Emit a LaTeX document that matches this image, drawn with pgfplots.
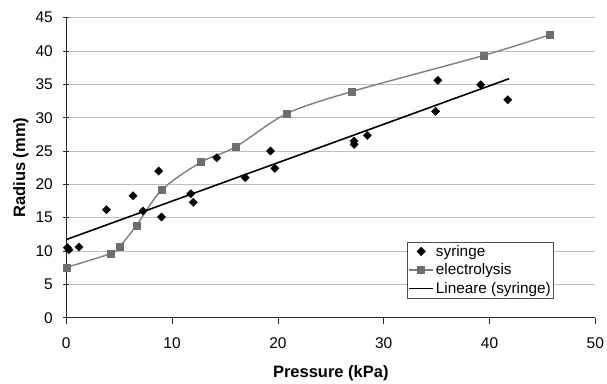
\documentclass[border=0pt]{standalone}
\usepackage{fontspec}
\setmainfont{Liberation Sans}
\usepackage{pgfplots}
\pgfplotsset{compat=1.18}
\definecolor{elgray}{HTML}{7F7F7F}
\definecolor{elsq}{HTML}{6E6E6E}
\definecolor{grid}{HTML}{808080}
\begin{document}
\begin{tikzpicture}
\begin{axis}[
  scale only axis,
  width=529pt, height=300pt,
  xmin=0, xmax=50, ymin=0, ymax=45,
  xtick={0,10,...,50}, ytick={0,5,...,45},
  axis x line=bottom, axis y line=left,
  axis line style={-, black!85, line width=0.8pt},
  tick style={black!85, line width=0.8pt},
  xtick align=outside,
  ytick align=center,
  major tick length=6pt,
  xmajorgrids=false,
  ymajorgrids=true,
  grid style={grid, line width=0.8pt},
  /pgf/number format/assume math mode=true,
  tick label style={font=\fontsize{15.5}{18}\selectfont},
  xticklabel style={yshift=-10pt},
  yticklabel style={xshift=-7pt},
  xlabel={\bfseries Pressure (kPa)},
  ylabel={\bfseries Radius (mm)},
  label style={font=\fontsize{16.5}{19}\selectfont},
  xlabel style={yshift=-10pt},
  ylabel style={yshift=0pt},
  legend style={at={(407pt-66.3pt,317.7pt-298.3pt)}, anchor=south west, draw=black!70, line width=0.7pt,
    font=\fontsize{15.3}{18}\selectfont, inner sep=1pt, row sep=2pt,
    cells={anchor=west}},
  legend cell align=left,
  legend image code/.code={\draw[mark repeat=2,mark phase=2,#1] plot coordinates {(0pt,0pt) (12pt,0pt) (24pt,0pt)};},
  clip=false,
]
\addplot[only marks, mark=square*, mark size=2.9pt, black, mark options={rotate=45}] coordinates {
(0.1,10.5) (0.25,10.2) (1.2,10.6) (3.8,16.2) (6.3,18.3) (7.25,16.0)
(9.0,15.1) (8.73,22.0) (11.77,18.6) (12.0,17.3) (14.22,24.0) (16.92,21.0)
(19.3,25.0) (19.72,22.4) (27.2,26.5) (27.2,26.0) (28.45,27.35) (35.12,35.6)
(34.9,30.95) (39.17,34.94) (41.72,32.7)
};
\addlegendentry{syringe}
\addplot[smooth, tension=0.5, elgray, line width=1.4pt, mark=square*, mark size=3.5pt,
  mark options={elsq, draw=elsq, line width=0.4pt}] coordinates {
(0,7.54) (4.24,9.64) (5.03,10.63) (6.63,13.83) (9.04,19.2) (12.75,23.35)
(15.98,25.6) (20.82,30.6) (27.02,33.94) (39.42,39.33) (45.7,42.43)
};
\addlegendentry{electrolysis}
\addplot[black, line width=1.6pt] coordinates {(0.05,11.75) (41.85,35.85)};
\addlegendentry{Lineare (syringe)}
\end{axis}
\pgfresetboundingbox
\path (current axis.south west) ++(-66.3pt,-65.3pt) rectangle ++(607pt,383pt);
\end{tikzpicture}
\end{document}
